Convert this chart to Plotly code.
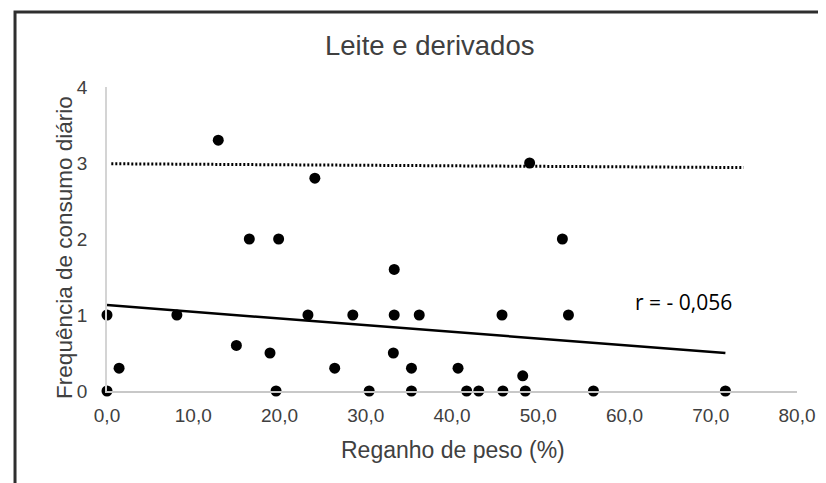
import plotly.graph_objects as go

# Data
reganho = [0.0, 0.0, 1.4, 8.1, 12.9, 15.0, 16.5, 18.9, 19.9, 19.6, 23.3, 24.1, 26.4,
           28.5, 30.4, 33.3, 33.3, 33.2, 35.3, 35.3, 36.2, 40.7, 41.7, 43.1, 45.8,
           45.9, 48.2, 48.5, 49.0, 52.8, 53.5, 56.4, 71.7]
frequencia = [1.0, 0.0, 0.3, 1.0, 3.3, 0.6, 2.0, 0.5, 2.0, 0.0, 1.0, 2.8, 0.3,
              1.0, 0.0, 1.6, 1.0, 0.5, 0.3, 0.0, 1.0, 0.3, 0.0, 0.0, 1.0,
              0.0, 0.2, 0.0, 3.0, 2.0, 1.0, 0.0, 0.0]

trend_x = [0.0, 71.7]
trend_y = [1.13, 0.50]

ref_x = [0.5, 73.8]
ref_y = [2.99, 2.94]

x_tickvals = [0, 10, 20, 30, 40, 50, 60, 70, 80]
x_ticktext = ["0,0", "10,0", "20,0", "30,0", "40,0", "50,0", "60,0", "70,0", "80,0"]
y_tickvals = [0, 1, 2, 3, 4]
y_ticktext = ["0", "1", "2", "3", "4"]

title_text = "Leite e derivados"
x_title = "Reganho de peso (%)"
y_title = "Frequência de consumo diário"
r_text = "r = - 0,056"

FONT = "Liberation Sans, Arial, sans-serif"
TXT = "#404040"

fig = go.Figure()
fig.add_trace(go.Scatter(x=ref_x, y=ref_y, mode="lines",
                         line=dict(color="black", width=3, dash="2px,2px"),
                         hoverinfo="skip", showlegend=False))
fig.add_trace(go.Scatter(x=trend_x, y=trend_y, mode="lines",
                         line=dict(color="black", width=2.5),
                         hoverinfo="skip", showlegend=False))
fig.add_trace(go.Scatter(x=reganho, y=frequencia, mode="markers",
                         marker=dict(color="black", size=11),
                         cliponaxis=False, showlegend=False))

# the page body adds an 8px offset, so margins are compensated
fig.update_layout(
    width=826, height=483,
    margin=dict(l=99, r=37, t=79, b=100, autoexpand=False),
    paper_bgcolor="white", plot_bgcolor="white",
    showlegend=False,
    font=dict(family=FONT, color=TXT),
    xaxis=dict(range=[0, 80], tickvals=x_tickvals, ticktext=x_ticktext,
               showgrid=False, zeroline=False, showline=True, automargin=False,
               linecolor="#c8c8c8", linewidth=1.5, ticks="",
               ticklabelstandoff=6,
               tickfont=dict(family=FONT, size=19, color=TXT)),
    yaxis=dict(range=[0, 4], tickvals=y_tickvals, ticktext=y_ticktext,
               showgrid=False, zeroline=False, showline=True, automargin=False,
               linecolor="#d4d4d4", linewidth=1.5, ticks="",
               ticklabelstandoff=14,
               tickfont=dict(family=FONT, size=19, color=TXT)),
    annotations=[
        dict(text=title_text, xref="paper", yref="paper", x=0.4667, y=1.138,
             xanchor="center", yanchor="middle", showarrow=False,
             font=dict(family=FONT, size=27.5, color=TXT)),
        dict(text=x_title, xref="paper", yref="paper", x=0.5014, y=-0.194,
             xanchor="center", yanchor="middle", showarrow=False,
             font=dict(family=FONT, size=23, color=TXT)),
        dict(text=y_title, xref="paper", yref="paper", x=-0.0609, y=0.474,
             xanchor="center", yanchor="middle", showarrow=False, textangle=-90,
             font=dict(family=FONT, size=22.5, color=TXT)),
        dict(text=r_text, xref="x", yref="y", x=66.8, y=1.17,
             xanchor="center", yanchor="middle", showarrow=False,
             font=dict(family="Open Sans, Noto Sans, sans-serif", size=21, color="black")),
    ],
    shapes=[
        dict(type="rect", xref="paper", yref="paper",
             x0=-0.1333, y0=-0.4, x1=1.3, y1=1.247,
             line=dict(color="#2e2e2e", width=3), fillcolor="rgba(0,0,0,0)",
             layer="below"),
    ],
)

fig.write_html("out.html")
